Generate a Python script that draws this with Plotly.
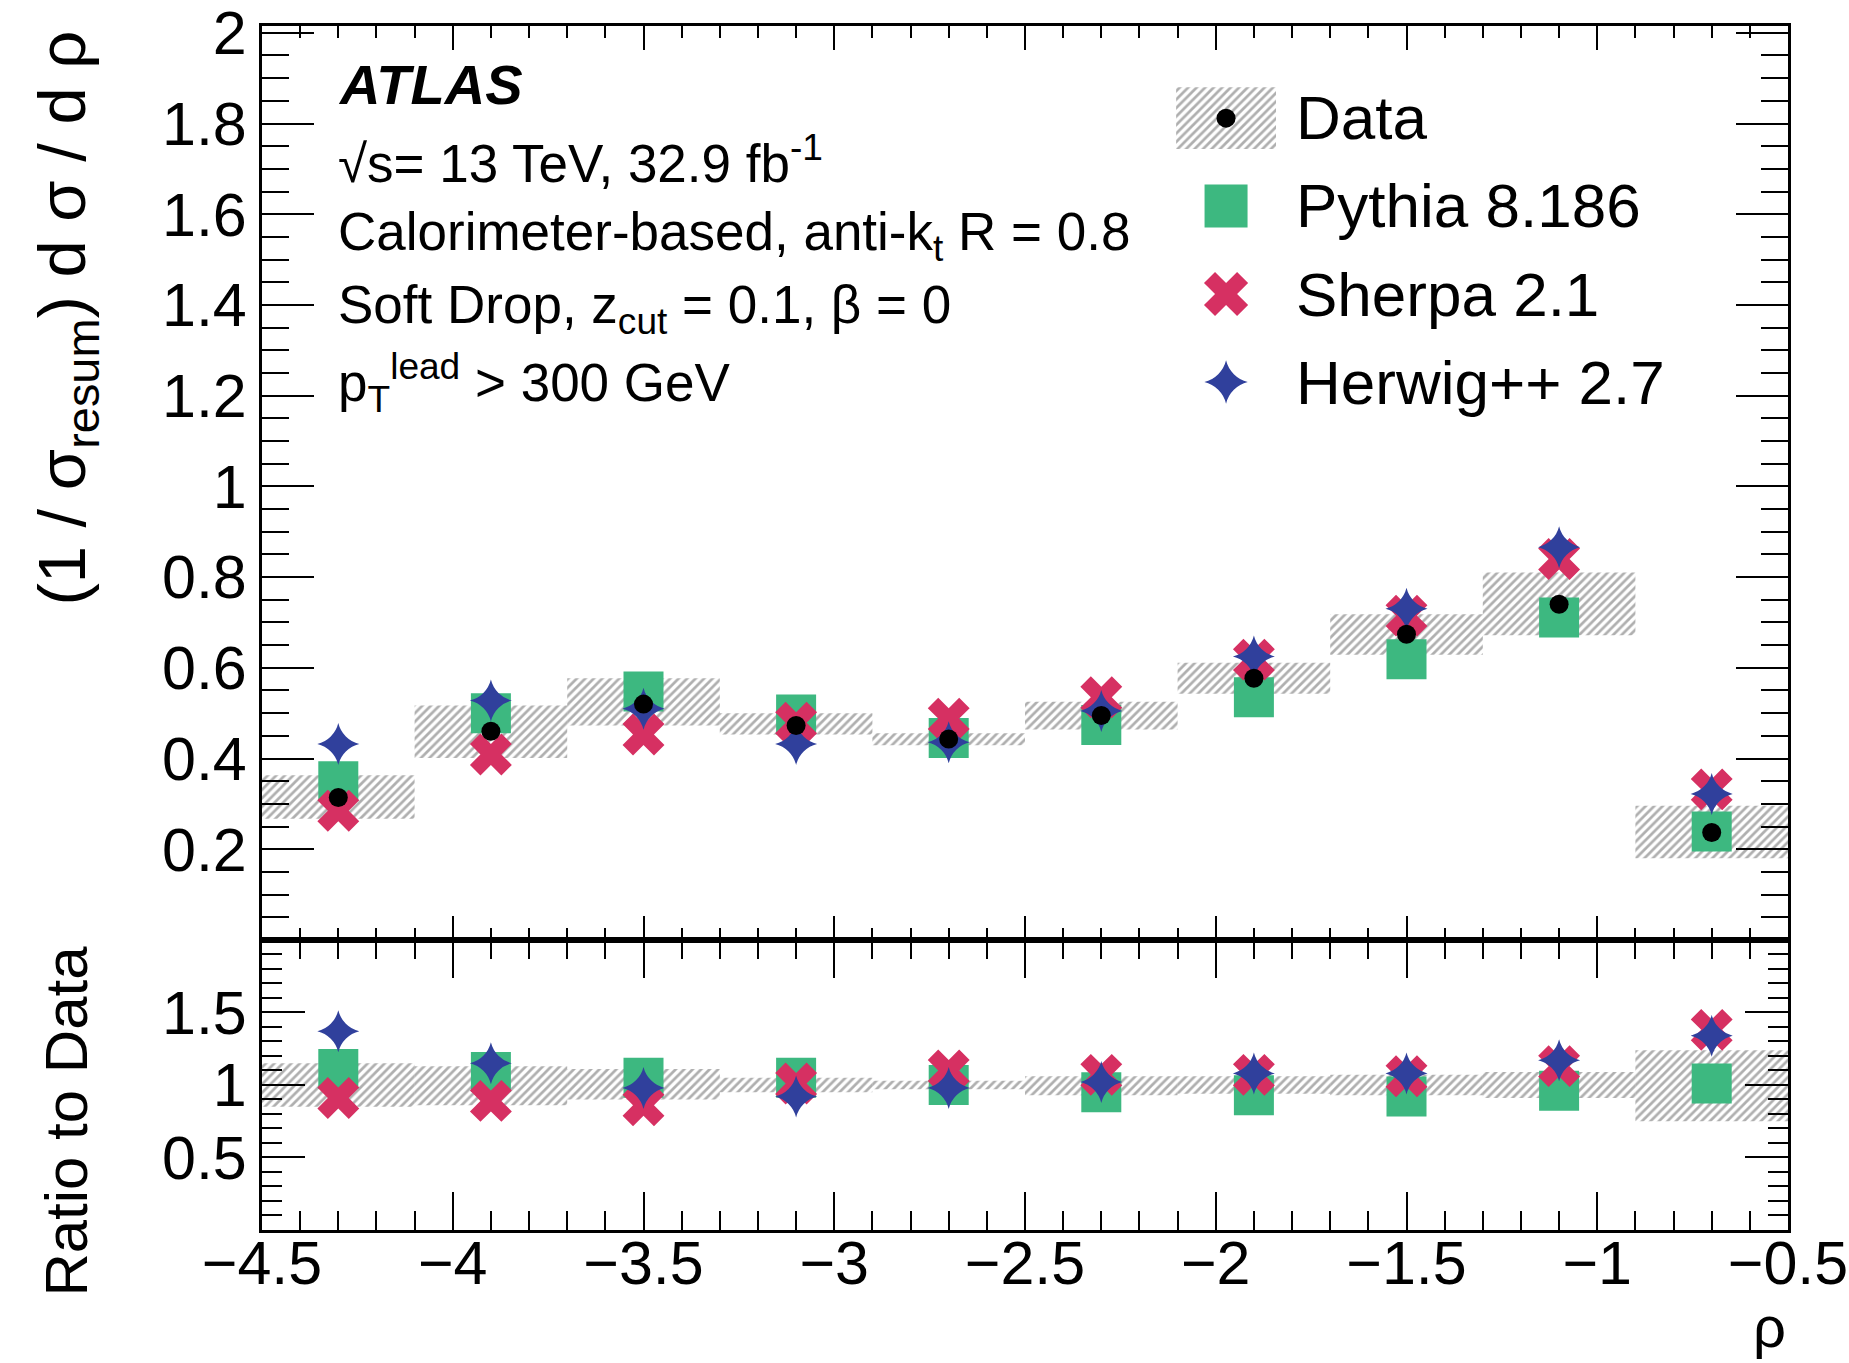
import plotly.graph_objects as go

# ---------------- data ----------------
bin_centers = [-4.3, -3.9, -3.5, -3.1, -2.7, -2.3, -1.9, -1.5, -1.1, -0.7]
bin_width = 0.4

data_vals = [0.314, 0.460, 0.520, 0.473, 0.443, 0.495, 0.577, 0.674, 0.740, 0.237]
data_unc_low = [0.267, 0.401, 0.473, 0.453, 0.429, 0.464, 0.543, 0.629, 0.672, 0.180]
data_unc_high = [0.363, 0.517, 0.577, 0.500, 0.456, 0.525, 0.611, 0.718, 0.810, 0.296]

pythia_vals = [0.350, 0.500, 0.548, 0.497, 0.445, 0.474, 0.535, 0.619, 0.711, 0.239]
sherpa_vals = [0.285, 0.409, 0.453, 0.479, 0.488, 0.535, 0.618, 0.715, 0.840, 0.332]
herwig_vals = [0.432, 0.528, 0.510, 0.432, 0.436, 0.505, 0.625, 0.730, 0.866, 0.322]

ratio_unc_low = [0.85, 0.86, 0.90, 0.95, 0.97, 0.93, 0.94, 0.93, 0.91, 0.75]
ratio_unc_high = [1.15, 1.13, 1.11, 1.05, 1.03, 1.06, 1.06, 1.07, 1.09, 1.24]
pythia_ratio = [1.11, 1.09, 1.05, 1.05, 1.00, 0.95, 0.93, 0.92, 0.96, 1.01]
sherpa_ratio = [0.91, 0.89, 0.86, 1.01, 1.10, 1.07, 1.07, 1.06, 1.13, 1.38]
herwig_ratio = [1.37, 1.15, 0.98, 0.92, 0.98, 1.02, 1.08, 1.08, 1.17, 1.34]

main_ytick_vals = [0.2, 0.4, 0.6, 0.8, 1.0, 1.2, 1.4, 1.6, 1.8, 2.0]
main_ytick_text = ["0.2", "0.4", "0.6", "0.8", "1", "1.2", "1.4", "1.6", "1.8", "2"]
ratio_ytick_vals = [0.5, 1.0, 1.5]
ratio_ytick_text = ["0.5", "1", "1.5"]
xtick_vals = [-4.5, -4.0, -3.5, -3.0, -2.5, -2.0, -1.5, -1.0, -0.5]
xtick_text = ["\u22124.5", "\u22124", "\u22123.5", "\u22123", "\u22122.5", "\u22122", "\u22121.5", "\u22121", "\u22120.5"]

legend_labels = ["Data", "Pythia 8.186", "Sherpa 2.1", "Herwig++ 2.7"]

info_lines = [
    "<b><i>ATLAS</i></b>",
    "\u221As= 13 TeV, 32.9 fb<sup>-1</sup>",
    "Calorimeter-based, anti-k<sub>t</sub> R = 0.8",
    "Soft Drop, z<sub>cut</sub> = 0.1, \u03b2 = 0",
    "p<sub>T</sub><sup>lead</sup> > 300 GeV",
]

# ---------------- styles ----------------
FONT = "Liberation Sans, Arial, sans-serif"
GREEN = "rgb(61,184,128)"
PINK = "rgb(214,48,98)"
BLUE = "rgb(48,64,156)"
HATCH = dict(shape="/", fgcolor="rgb(95,95,95)", bgcolor="rgba(255,255,255,0)",
             size=6, solidity=0.45)

SQ_SIZE = 40
X_SIZE = 37
STAR_SIZE = 30
DOT_SIZE = 19

fig = go.Figure()


def add_panel(xa, ya, band_lo, band_hi, data_y, p, s, h):
    fig.add_trace(go.Bar(
        x=bin_centers, y=[hi - lo for lo, hi in zip(band_lo, band_hi)], base=band_lo,
        width=bin_width, xaxis=xa, yaxis=ya, showlegend=False,
        marker=dict(color="rgba(255,255,255,0)", pattern=HATCH, line=dict(width=0)),
    ))
    fig.add_trace(go.Scatter(x=bin_centers, y=p, mode="markers", xaxis=xa, yaxis=ya,
                             showlegend=False,
                             marker=dict(symbol="square", size=SQ_SIZE, color=GREEN,
                                         line=dict(width=0))))
    fig.add_trace(go.Scatter(x=bin_centers, y=s, mode="markers", xaxis=xa, yaxis=ya,
                             showlegend=False,
                             marker=dict(symbol="x", size=X_SIZE, color=PINK,
                                         line=dict(width=0))))
    fig.add_trace(go.Scatter(x=bin_centers, y=h, mode="markers", xaxis=xa, yaxis=ya,
                             showlegend=False,
                             marker=dict(symbol="star-diamond", size=STAR_SIZE, color=BLUE,
                                         line=dict(width=0))))
    if data_y is not None:
        fig.add_trace(go.Scatter(x=bin_centers, y=data_y, mode="markers", xaxis=xa, yaxis=ya,
                                 showlegend=False,
                                 marker=dict(symbol="circle", size=DOT_SIZE, color="black",
                                             line=dict(width=0))))


add_panel("x", "y", data_unc_low, data_unc_high, data_vals, pythia_vals, sherpa_vals, herwig_vals)
add_panel("x2", "y2", ratio_unc_low, ratio_unc_high, None, pythia_ratio, sherpa_ratio, herwig_ratio)

# ---------------- hand-built legend (own axes) ----------------
rows = list(range(len(legend_labels)))
fig.add_trace(go.Bar(x=[0.5], y=[0.7], base=[rows[0] - 0.35], width=1.0, xaxis="x3", yaxis="y3",
                     showlegend=False,
                     marker=dict(color="rgba(255,255,255,0)", pattern=HATCH, line=dict(width=0))))
fig.add_trace(go.Scatter(x=[0.5], y=[rows[0]], mode="markers", xaxis="x3", yaxis="y3",
                         showlegend=False,
                         marker=dict(symbol="circle", size=DOT_SIZE, color="black")))
fig.add_trace(go.Scatter(x=[0.5], y=[rows[1]], mode="markers", xaxis="x3", yaxis="y3",
                         showlegend=False,
                         marker=dict(symbol="square", size=SQ_SIZE + 3, color=GREEN)))
fig.add_trace(go.Scatter(x=[0.5], y=[rows[2]], mode="markers", xaxis="x3", yaxis="y3",
                         showlegend=False,
                         marker=dict(symbol="x", size=X_SIZE + 2, color=PINK, line=dict(width=0))))
fig.add_trace(go.Scatter(x=[0.5], y=[rows[3]], mode="markers", xaxis="x3", yaxis="y3",
                         showlegend=False,
                         marker=dict(symbol="star-diamond", size=STAR_SIZE + 1, color=BLUE,
                                     line=dict(width=0))))

# legend label positions in paper units (plot area: x 262..1788 px, y 26..1230 px)
LEG_LABEL_X = 0.676
LEG_ROW_Y = [0.9236, 0.8505, 0.7774, 0.7043]

annotations = []
for lab, yy in zip(legend_labels, LEG_ROW_Y):
    annotations.append(dict(text=lab, xref="paper", yref="paper", x=LEG_LABEL_X, y=yy,
                            xanchor="left", yanchor="middle", showarrow=False,
                            font=dict(family=FONT, size=62, color="black")))

info_y = [0.951, 0.8895, 0.8256, 0.765, 0.7035]
info_size = [56, 53, 53, 53, 53]
for txt, yy, fs in zip(info_lines, info_y, info_size):
    annotations.append(dict(text=txt, xref="paper", yref="paper", x=0.0485, y=yy,
                            xanchor="left", yanchor="middle", showarrow=False,
                            font=dict(family=FONT, size=fs, color="black")))

# axis titles (ROOT-style: aligned to the axis end)
annotations.append(dict(text="(1 / \u03c3<sub>resum</sub>) d \u03c3 / d \u03c1", textangle=-90,
                        xref="paper", yref="paper", x=-0.128, y=0.998, xanchor="center",
                        yanchor="top", showarrow=False,
                        font=dict(family=FONT, size=67, color="black")))
annotations.append(dict(text="Ratio to Data", textangle=-90,
                        xref="paper", yref="paper", x=-0.128, y=0.238, xanchor="center",
                        yanchor="top", showarrow=False,
                        font=dict(family=FONT, size=60, color="black")))
annotations.append(dict(text="\u03c1", xref="paper", yref="paper", x=1.0, y=-0.1085,
                        xanchor="right", yanchor="bottom", showarrow=False,
                        font=dict(family=FONT, size=58, color="black")))

TICKFONT = dict(family=FONT, size=61, color="black")
SPLIT = 0.2409

common_x = dict(range=[-4.5, -0.5], tickvals=xtick_vals, ticktext=xtick_text,
                ticks="inside", tickwidth=2, tickcolor="black",
                showline=True, linewidth=3, linecolor="black", mirror="allticks",
                showgrid=False, zeroline=False, tickfont=TICKFONT,
                ticklabeloverflow="allow", automargin=False)

fig.update_layout(
    width=1849, height=1363,
    margin=dict(l=262, r=61, t=26, b=133, autoexpand=False),
    paper_bgcolor="white", plot_bgcolor="rgba(0,0,0,0)",
    barmode="overlay",
    showlegend=False,
    font=dict(family=FONT, color="black"),
    xaxis=dict(domain=[0, 1], anchor="y", showticklabels=False, ticklen=24,
               minor=dict(ticks="inside", ticklen=12, dtick=0.1, tick0=-4.5, tickwidth=2,
                          tickcolor="black", showgrid=False),
               **common_x),
    yaxis=dict(domain=[SPLIT, 1], anchor="x", range=[0, 2.015],
               tickvals=main_ytick_vals, ticktext=main_ytick_text,
               ticks="inside", ticklen=52, tickwidth=2, tickcolor="black",
               minor=dict(ticks="inside", ticklen=27, dtick=0.05, tick0=0, tickwidth=2,
                          tickcolor="black", showgrid=False),
               showline=True, linewidth=3, linecolor="black", mirror="allticks",
               showgrid=False, zeroline=False, tickfont=TICKFONT,
               ticklabeloverflow="allow", automargin=False),
    xaxis2=dict(domain=[0, 1], anchor="y2", matches="x", showticklabels=True, ticklen=38,
                ticklabelstandoff=-22,
                minor=dict(ticks="inside", ticklen=19, dtick=0.1, tick0=-4.5, tickwidth=2,
                           tickcolor="black", showgrid=False),
                **common_x),
    yaxis2=dict(domain=[0, SPLIT], anchor="x2", range=[0, 2],
                tickvals=ratio_ytick_vals, ticktext=ratio_ytick_text,
                ticks="inside", ticklen=43, tickwidth=2, tickcolor="black",
                minor=dict(ticks="inside", ticklen=20, dtick=0.1, tick0=0, tickwidth=2,
                           tickcolor="black", showgrid=False),
                showline=True, linewidth=3, linecolor="black", mirror="allticks",
                showgrid=False, zeroline=False, tickfont=TICKFONT,
                ticklabeloverflow="allow", automargin=False),
    xaxis3=dict(domain=[0.599, 0.6645], anchor="y3", range=[0, 1], visible=False,
                fixedrange=True, automargin=False),
    yaxis3=dict(domain=[0.6678, 0.960], anchor="x3", range=[3.5, -0.5], visible=False,
                fixedrange=True, automargin=False),
    annotations=annotations,
)

fig.write_html("out.html")
